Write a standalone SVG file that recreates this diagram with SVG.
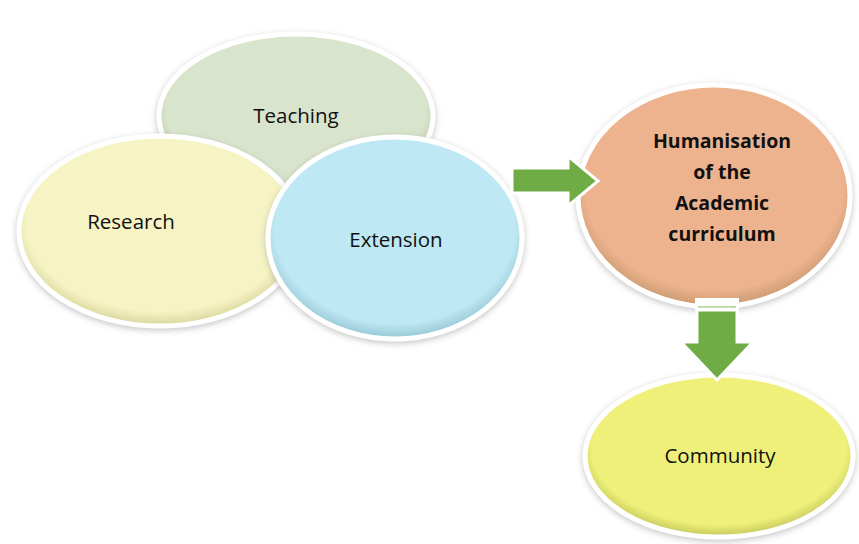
<svg xmlns="http://www.w3.org/2000/svg" width="859" height="544" viewBox="0 0 859 544">
  <style>
    .lbl { font-family: "Open Sans", "Liberation Sans", sans-serif; font-size: 20.5px; fill: #111; text-anchor: middle; }
    .bold { font-weight: bold; font-size: 19.5px; }
    .bubble { stroke: #ffffff; stroke-width: 5; filter: url(#soft); }
    .arrow { fill: #6fac46; stroke: #ffffff; stroke-width: 3; stroke-linejoin: miter; }
  </style>
  <defs>
    <filter id="soft" x="-20%" y="-20%" width="140%" height="140%">
      <feGaussianBlur in="SourceAlpha" stdDeviation="3"/>
      <feOffset dx="0" dy="2" result="blur"/>
      <feFlood flood-color="#8a8a8a" flood-opacity="0.5"/>
      <feComposite in2="blur" operator="in" result="shadow"/>
      <feMerge>
        <feMergeNode in="shadow"/>
        <feMergeNode in="SourceGraphic"/>
      </feMerge>
    </filter>
    <radialGradient id="gTeach" cx="50%" cy="45%" r="55%">
      <stop offset="0.86" stop-color="#d9e4cc"/>
      <stop offset="1" stop-color="#b9c6a8"/>
    </radialGradient>
    <radialGradient id="gRes" cx="50%" cy="45%" r="55%">
      <stop offset="0.86" stop-color="#f6f4c4"/>
      <stop offset="1" stop-color="#d8d59c"/>
    </radialGradient>
    <radialGradient id="gExt" cx="50%" cy="45%" r="55%">
      <stop offset="0.86" stop-color="#bee8f3"/>
      <stop offset="1" stop-color="#95c6d4"/>
    </radialGradient>
    <radialGradient id="gHum" cx="50%" cy="45%" r="55%">
      <stop offset="0.86" stop-color="#edb38e"/>
      <stop offset="1" stop-color="#c99a70"/>
    </radialGradient>
    <radialGradient id="gCom" cx="50%" cy="45%" r="55%">
      <stop offset="0.86" stop-color="#eef07a"/>
      <stop offset="1" stop-color="#c3c75a"/>
    </radialGradient>
  </defs>

  <rect width="859" height="544" fill="#ffffff"/>

  <g id="teaching">
    <ellipse class="bubble" cx="296" cy="116" rx="137" ry="82" fill="url(#gTeach)"/>
    <text class="lbl" x="296" y="123">Teaching</text>
  </g>

  <g id="research">
    <ellipse class="bubble" cx="160" cy="231" rx="141" ry="95" fill="url(#gRes)"/>
    <text class="lbl" x="131" y="229">Research</text>
  </g>

  <g id="extension">
    <ellipse class="bubble" cx="395" cy="238" rx="127" ry="101" fill="url(#gExt)"/>
    <text class="lbl" x="396" y="247">Extension</text>
  </g>

  <g id="humanisation">
    <ellipse class="bubble" cx="714" cy="196" rx="136" ry="111" fill="url(#gHum)"/>
    <text class="lbl bold" x="722" y="148">Humanisation</text>
    <text class="lbl bold" x="722" y="179">of the</text>
    <text class="lbl bold" x="722" y="210">Academic</text>
    <text class="lbl bold" x="722" y="241">curriculum</text>
  </g>

  <g id="community">
    <ellipse class="bubble" cx="719" cy="456" rx="134" ry="81" fill="url(#gCom)"/>
    <text class="lbl" x="720" y="463">Community</text>
  </g>

  <g id="connectors">
    <!-- block arrow into the curriculum node -->
    <polygon class="arrow" points="512,168 568,168 568,156 598,181 568,206 568,193 512,193"/>
    <!-- block arrow down to the community node -->
    <rect x="695" y="298" width="44" height="12" fill="#ffffff"/>
    <line x1="698" y1="307" x2="736" y2="307" stroke="#a9d18e" stroke-width="1.5"/>
    <polygon class="arrow" points="697,310 737,310 737,342 753,342 717,380 681,342 697,342"/>
  </g>
</svg>
